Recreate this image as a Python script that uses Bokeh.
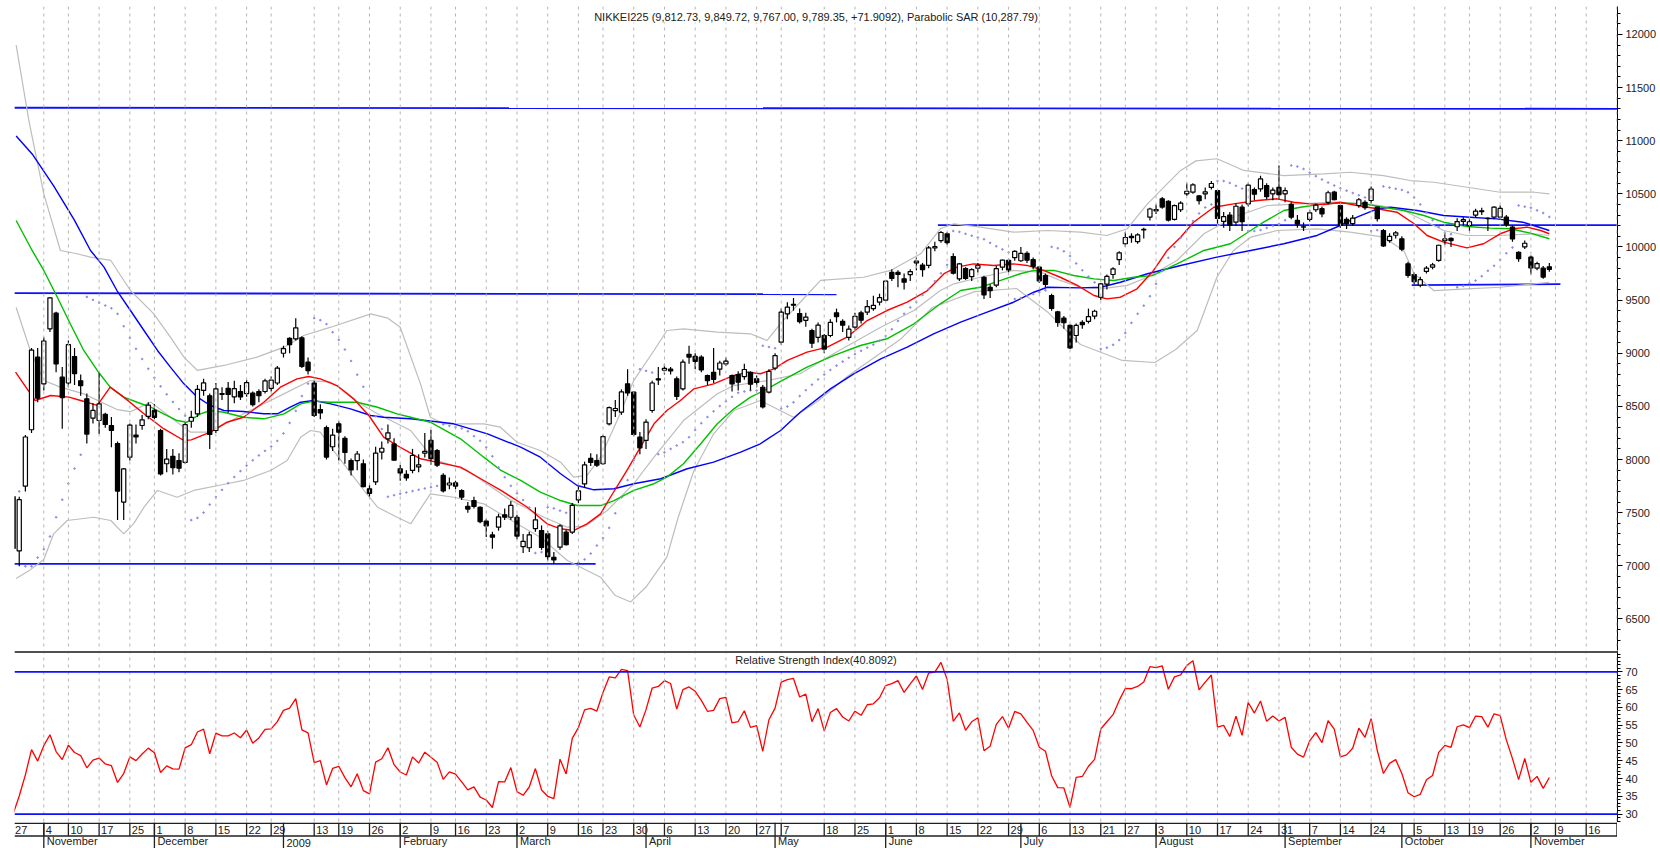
import numpy as np
from bokeh.plotting import figure
from bokeh.layouts import column
from bokeh.models import Range1d, Span, Label, FixedTicker, ColumnDataSource
from bokeh.core.properties import value
from bokeh.embed import file_html
from bokeh.resources import INLINE

# ---------------- data (trading-day index 0 = 27 Oct 2008) ----------------
opens = [7650,7140,7750,8280,8963,8712,9230,9377,8775,8720,
8969,8740,8571,8390,8367,8425,8320,8150,7600,8022,
8230,8320,8405,8462,8273,7960,8030,7990,7974,8360,
8430,8650,8600,8273,8620,8670,8590,8640,8620,8624,
8640,8640,8670,8720,9000,9140,9136,9145,8916,8719,
8470,8300,8120,8336,8198,7990,7990,7960,7725,7790,
8070,8195,8147,7913,7860,7897,7930,8060,8180,8085,
7850,7760,7780,7708,7560,7614,7551,7420,7290,7363,
7480,7457,7457,7180,7170,7350,7332,7301,7080,7175,
7316,7316,7620,7770,8010,7990,7960,8336,8460,8445,
8712,8634,8210,8180,8461,8760,8840,8850,8760,8665,
8990,8970,8963,8790,8820,8850,8900,8790,8800,8780,
8820,8760,8680,8634,8860,9104,9371,9460,9374,9310,
9214,9150,9167,9167,9380,9300,9150,9245,9380,9386,
9420,9480,9500,9760,9760,9700,9740,9850,9830,9826,
9990,10060,10124,9910,9700,9797,9720,9800,9715,9620,
9640,9810,9873,9900,9870,9940,9880,9810,9731,9543,
9390,9330,9262,9167,9290,9300,9350,9527,9650,9741,
9880,10030,10100,10050,10160,10280,10340,10453,10430,10260,
10350,10500,10515,10480,10500,10560,10530,10240,10300,10233,
10374,10405,10540,10546,10578,10500,10560,10500,10400,10250,
10190,10260,10350,10360,10420,10515,10390,10260,10220,10390,
10420,10437,10374,10155,10060,10110,10077,9841,9741,9640,
9770,9810,9873,10060,10080,10190,10240,10200,10300,10340,
10270,10280,10280,10280,10186,9950,10000,9904,9800,9800,
9812.73]
highs = [7700,7650,8230,9050,9050,9150,9530,9390,8870,9120,
9050,8800,8620,8530,8820,8440,8400,8170,7920,8340,
8330,8420,8540,8520,8290,8100,8100,8060,8350,8460,
8700,8760,8620,8720,8680,8730,8740,8700,8750,8640,
8660,8760,8780,8880,9070,9150,9330,9160,8960,8740,
8520,8320,8290,8360,8220,8010,8080,8000,7760,8120,
8170,8330,8200,7950,7900,8100,8050,8250,8280,8100,
7870,7830,7800,7720,7600,7650,7560,7440,7320,7490,
7540,7610,7480,7300,7320,7550,7380,7330,7130,7390,
7340,7590,7745,7980,8060,8050,8230,8500,8560,8660,
8850,8640,8260,8380,8740,8870,8900,8870,8780,8940,
9070,9000,8980,8800,9050,8930,8960,8800,8830,8900,
8830,8790,8700,8850,9000,9420,9480,9520,9420,9380,
9230,9290,9180,9320,9420,9320,9260,9380,9400,9500,
9540,9560,9690,9790,9780,9750,9790,9900,9850,10010,
10050,10150,10140,9940,9850,9810,9800,9850,9730,9650,
9820,9880,9890,9970,10000,9960,9900,9820,9750,9560,
9400,9350,9270,9280,9310,9420,9410,9660,9740,9810,
9960,10140,10130,10130,10180,10370,10400,10470,10440,10400,
10430,10600,10600,10490,10560,10620,10540,10330,10330,10410,
10400,10600,10560,10670,10600,10560,10767,10560,10420,10300,
10230,10350,10410,10380,10530,10530,10400,10280,10300,10460,
10440,10570,10380,10170,10130,10150,10100,9860,9760,9720,
9820,9850,10020,10120,10090,10270,10280,10270,10360,10370,
10280,10380,10390,10300,10200,9960,10060,9920,9860,9820,
9849.72]
lows = [7140,6995,7700,8250,8540,8650,9200,8820,8290,8680,
8700,8600,8150,8340,8240,8300,8116,7430,7430,7990,
8150,8280,8380,8380,7850,7880,7860,7880,7960,8300,
8400,8600,8100,8250,8560,8440,8530,8560,8590,8500,
8540,8620,8640,8700,8960,9000,9120,8860,8800,8400,
8380,8000,8080,7990,7960,7850,7900,7740,7650,7760,
8000,8150,7990,7800,7800,7870,7880,8020,7950,7930,
7690,7720,7720,7620,7500,7540,7400,7270,7160,7330,
7430,7430,7250,7120,7130,7320,7150,7050,7020,7150,
7190,7300,7590,7740,7940,7930,7950,8320,8400,8420,
8600,8220,8050,8100,8440,8700,8800,8800,8560,8650,
8900,8850,8820,8700,8720,8790,8880,8640,8650,8750,
8650,8680,8480,8620,8840,9080,9320,9400,9280,9250,
9050,9100,9000,9150,9290,9200,9120,9220,9280,9360,
9400,9450,9490,9680,9620,9600,9680,9780,9720,9800,
9960,10040,10020,9740,9680,9690,9680,9760,9510,9520,
9620,9780,9760,9870,9860,9850,9790,9660,9620,9400,
9250,9230,9040,9100,9230,9280,9320,9500,9600,9700,
9830,10000,10040,10030,10080,10250,10310,10360,10240,10250,
10330,10480,10500,10400,10450,10540,10200,10180,10150,10200,
10150,10380,10440,10520,10450,10440,10450,10420,10260,10180,
10150,10240,10330,10280,10400,10440,10180,10170,10200,10370,
10350,10410,10240,10000,10040,10080,9960,9710,9650,9620,
9750,9790,9860,10020,10000,10150,10200,10150,10280,10300,
10150,10260,10260,10190,10050,9860,9980,9740,9780,9700,
9767.00]
closes = [7163,7622,8212,9030,8577,9115,9521,8899,8583,9081,
8809,8696,8239,8462,8524,8330,8273,7703,7911,8324,
8213,8373,8512,8397,7864,8004,7924,7918,8329,8396,
8660,8721,8236,8665,8613,8612,8667,8589,8724,8517,
8600,8740,8747,8860,9043,9081,9239,8876,8837,8414,
8438,8023,8230,8257,8066,7902,8052,7745,7682,8061,
8106,8251,7994,7874,7826,8038,7950,8077,8009,7946,
7705,7779,7750,7646,7534,7558,7416,7376,7269,7461,
7458,7568,7280,7230,7291,7433,7173,7086,7055,7376,
7198,7569,7704,7949,7972,7946,8216,8488,8480,8636,
8627,8236,8110,8352,8720,8750,8858,8833,8595,8916,
8964,8924,8843,8743,8755,8908,8925,8711,8727,8847,
8708,8726,8494,8828,8977,9386,9433,9452,9298,9340,
9094,9265,9039,9290,9345,9264,9226,9347,9311,9439,
9451,9523,9678,9704,9742,9669,9768,9866,9787,9991,
10003,10136,10040,9753,9841,9704,9786,9826,9550,9590,
9796,9877,9783,9958,9940,9876,9816,9681,9648,9421,
9291,9287,9050,9262,9269,9344,9395,9652,9723,9793,
9945,10089,10087,10113,10165,10357,10352,10375,10253,10389,
10412,10524,10585,10435,10518,10597,10269,10285,10204,10383,
10238,10581,10497,10640,10474,10534,10493,10530,10280,10215,
10187,10321,10393,10312,10510,10444,10202,10218,10271,10444,
10371,10544,10266,10010,10100,10133,9979,9732,9674,9692,
9800,9832,10016,10076,10060,10239,10257,10237,10337,10333,
10267,10374,10363,10212,10075,9891,10035,9803,9844,9717,
9789.35]

# moving averages / bands (trading-day index, price)
red_i = [0.4,3.6,6.1,9.1,11,13.7,15.8,18,21.3,24.5,27.8,29,32.1,34.8,37.5,40.8,43.5,46.2,48.1,50,52.7,55.4,57.9,60.3,62.5,64.7,66.3,72.8,76.1,79.4,83.7,86.9,89.1,91.2,93.4,95.6,97.2,99.9,102.1,104.3,106.4,108.6,110.8,114,117.3,119.5,121.6,123.8,126,129.2,132.5,135.7,139,142.2,145.5,148.8,151.5,153.6,156.3,159.6,162.8,165,167.7,170.4,173.2,175.9,178,180.2,182.9,185.6,187.8,190,192.1,195.4,198.6,202.5,205.7,208.4,211.1,213.3,216,218.7,222,225.2,228,230.1,232.8,236.6,239.3,242,244.2,246.4,248.6,250]
red_v = [8822,8555,8602,8587,8555,8510,8681,8587,8430,8290,8179,8185,8257,8351,8398,8539,8680,8759,8781,8759,8696,8571,8414,8210,8132,8060,8007,7928,7819,7709,7551,7395,7348,7332,7395,7489,7645,7897,8116,8336,8461,8555,8665,8712,8791,8822,8807,8853,8932,9010,9057,9151,9308,9402,9480,9590,9748,9810,9841,9826,9841,9826,9779,9715,9638,9543,9512,9527,9606,9779,9967,10092,10233,10374,10405,10437,10453,10421,10405,10399,10421,10390,10359,10327,10218,10108,10045,9992,10030,10124,10171,10186,10155,10124]
green_i = [0.5,3.1,5,7.2,9.3,11.5,13.7,15.8,18,20.2,22.4,24.5,26.7,28.3,30.5,32.1,34.3,37.5,40.8,44.1,46.8,48.9,51.7,56,59.3,62.5,64.7,67.9,72.8,76.6,79.4,82.6,85.8,89.1,91.8,95.6,97.8,101,104.3,106.4,109.1,111.9,114.6,117.3,120,122.2,124.9,129.2,133.6,137.9,142.2,146.6,150.9,154.2,157.4,160.7,163.9,166.1,169.4,172.6,175.9,179.1,182.4,185.4,189.4,193.8,198.1,201.4,203.5,206.8,209.5,213.3,216.5,219.8,223,226.3,229.6,232.8,236.6,240.4,243.7,246.9,250]
green_v = [10249,9967,9779,9527,9277,9026,8838,8681,8587,8539,8492,8430,8367,8351,8430,8461,8445,8398,8383,8430,8524,8549,8539,8539,8492,8430,8398,8351,8195,8022,7897,7803,7693,7614,7567,7567,7614,7709,7772,7834,7960,8148,8336,8477,8587,8649,8735,8869,8979,9073,9136,9277,9465,9590,9621,9685,9748,9779,9779,9731,9700,9685,9715,9730,9841,9967,10030,10155,10233,10343,10374,10405,10412,10405,10374,10343,10296,10233,10193,10177,10171,10130,10077]
blue_i = [0.5,3.1,6.6,10,12.6,14.8,16.9,19.1,21.3,23.5,25.6,27.8,30,32.1,34.3,37.5,40.8,43,45.1,46.8,48.9,51.7,54.9,58.2,60.3,64.7,71.7,77.2,82.6,85.8,89.1,91.8,94.5,97.8,101,105.4,109.7,114,118.4,121.6,124.9,128.1,133,136.8,141.2,145.5,149.8,154.2,158.5,162.8,166.1,168.3,173.7,177,180.2,184.6,190,195.9,201.4,206.8,212.2,216,218.7,222,224.2,228.5,232.8,237.1,241.4,245.7,250]
blue_v = [11044,10875,10575,10250,9967,9810,9590,9402,9214,9026,8869,8712,8587,8508,8461,8452,8430,8430,8492,8539,8555,8524,8477,8414,8398,8383,8336,8242,8116,8022,7866,7756,7715,7725,7772,7819,7913,7975,8069,8148,8273,8445,8665,8806,8947,9057,9183,9292,9386,9480,9574,9621,9615,9621,9668,9748,9826,9904,9967,10030,10108,10202,10280,10359,10374,10343,10296,10280,10264,10233,10155]
bbu_i = [0.5,2.6,5,7.7,10.4,12.6,15.9,19.1,22.9,25.6,27.8,30,34.3,39.7,44.1,47.3,51.7,58.2,61,63,66.3,67.9,70.1,76.6,79.3,82,85.8,89.1,91.2,93.4,95.6,98.3,101,104.3,106.4,109.1,114.6,120,122.7,125.2,128.1,131.4,138.4,142.8,147.7,150.9,153.1,157.4,162.8,168.3,173.7,178,181.3,184.6,187.8,190,192.5,195.9,200.3,206.8,213.3,217.6,223,227.4,231.2,236.6,242,247.5,250]
bbu_v = [11900,11180,10500,9967,9936,9904,9873,9590,9371,9151,8963,8838,8885,8963,9057,9167,9245,9371,9330,9245,8712,8398,8336,8336,8304,8163,8085,7975,7834,7850,8022,8367,8743,9026,9214,9230,9198,9183,9120,9300,9480,9685,9715,9779,9936,10171,10218,10186,10139,10155,10139,10108,10171,10405,10593,10720,10810,10830,10720,10672,10688,10703,10672,10625,10609,10562,10515,10515,10500]
bbm_i = [0.5,2.8,5,7.7,11.5,16.9,19.1,22.4,26.7,28.9,32.1,37.5,43,48.4,51.7,53.8,56.5,59.3,64.7,68.5,73.9,80.9,86.4,90.2,93,96.7,101,104.3,109.1,114.6,117.3,122.7,128.1,133,141.2,146.6,150.9,153.1,157.4,162.8,167.2,170.4,173.7,177,181.3,184.6,189.4,193.8,198.6,204.1,209.5,214.9,220.4,225.8,228.5,232.8,236.6,242,247.5,250]
bbm_v = [9430,9026,8743,8681,8618,8470,8450,8540,8350,8257,8257,8430,8587,8743,8728,8649,8524,8430,8273,8000,7900,7620,7457,7363,7370,7520,7772,8022,8367,8618,8696,8743,8807,8979,9245,9402,9590,9653,9715,9779,9763,9685,9621,9606,9638,9715,9873,10124,10280,10390,10405,10421,10405,10359,10280,10155,10108,10108,10124,10108]
bbl_i = [0.5,2.5,5,6.6,8.8,13.1,15.9,18,19.6,21.3,23.5,26.7,29.4,34.8,37.5,41.9,44.6,46.8,48.4,50,51.7,53.8,57.1,59.3,62.5,64.7,67.9,71.7,76.6,82,85.8,90.2,93.4,95.6,98,100.5,103,106.4,108.2,110.8,114,117.3,121.6,127,131,135.8,144.4,149.6,156.5,163.3,168.5,173.7,180.5,185.8,189.2,192.7,194.4,195.9,198.6,201.4,205.7,212.2,217.6,223,226.3,228,231.2,236.6,242,247.5,250]
bbl_v = [6880,6950,7060,7301,7426,7457,7426,7301,7395,7551,7709,7645,7709,7772,7803,7897,7991,8210,8273,8257,8116,7960,7709,7551,7457,7395,7677,7645,7583,7395,7269,7050,6956,6893,6720,6660,6800,7081,7450,7897,8242,8461,8555,8398,8550,8783,9131,9430,9580,9609,9380,9082,8932,8913,9035,9214,9480,9715,9967,10092,10155,10171,10139,10092,9967,9748,9590,9606,9621,9653,9668]

# support / resistance lines (start index, end index, start price, end price)
trend_i0 = [0.2, 0.2, 0.2, 150.5, 227.6]
trend_i1 = [262.0, 134.0, 94.8, 262.0, 251.8]
trend_v0 = [11310, 9565, 7018, 10205, 9640]
trend_v1 = [11300, 9555, 7018, 10205, 9650]

# calendar ticks
tick_idx = [0,5,9,14,19,23,28,33,38,42,49,53,58,63,68,72,77,82,87,92,96,101,106,111,116,121,125,132,137,142,147,152,157,162,167,172,177,181,186,191,196,201,206,211,216,221,228,233,237,242,247,251,256,261]
tick_lbl = ["27","4","10","17","25","1","8","15","22","29","13","19","26","2","9","16","23","2","9","16","23","30","6","13","20","27","7","18","25","1","8","15","22","29","6","13","21","27","3","10","17","24","31","7","14","24","5","13","19","26","2","9","16",""]
month_idx = [5,23,44,63,82,103,124,142,164,186,207,226,247]
month_lbl = ["November","December","2009","February","March","April","May","June","July","August","September","October","November"]

title_txt = "NIKKEI225 (9,812.73, 9,849.72, 9,767.00, 9,789.35, +71.9092), Parabolic SAR (10,287.79)"
rsi_txt = "Relative Strength Index(40.8092)"

# ---------------- indicators derived from the OHLC above ----------------
def psar(h, l, step=0.02, amax=0.2):
    out = [h[0]]
    bull = False
    af = step
    ep = l[0]
    for t in range(1, len(h)):
        prev = out[-1]
        s = prev + af * (ep - prev)
        if bull:
            s = min(s, l[t-1], l[max(t-2, 0)])
            if l[t] < s:
                bull, s, ep, af = False, ep, l[t], step
            elif h[t] > ep:
                ep, af = h[t], min(af + step, amax)
        else:
            s = max(s, h[t-1], h[max(t-2, 0)])
            if h[t] > s:
                bull, s, ep, af = True, ep, h[t], step
            elif l[t] < ep:
                ep, af = l[t], min(af + step, amax)
        out.append(s)
    return out

def rsi_calc(c, n=14, gain0=135.0, loss0=315.0):
    ag, al = gain0, loss0
    out = [100 * ag / (ag + al)]
    for t in range(1, len(c)):
        dlt = c[t] - c[t-1]
        ag = (ag * (n - 1) + max(dlt, 0)) / n
        al = (al * (n - 1) + max(-dlt, 0)) / n
        out.append(100 * ag / (ag + al))
    return out

sar = psar(highs, lows)
rsi = rsi_calc(closes)

FONT = "Liberation Sans"
N = len(closes)
idx = list(range(N))
FW = 1603
X0 = 0.23
xr = Range1d(X0, X0 + FW / 6.145)
XC = X0 + FW / 6.145 / 2
GRID = "#b4b4b4"

# ---------------- top black band ----------------
band = figure(width=1660, height=6, toolbar_location=None, output_backend="svg",
              x_axis_type=None, y_axis_type=None, min_border=0,
              outline_line_color=None, background_fill_color="black", border_fill_color="black")
band.grid.visible = False

def style_axis(a):
    a.axis_line_color = "black"
    a.major_tick_out = 5
    a.major_tick_in = 0
    a.minor_tick_out = 3
    a.minor_tick_in = 0
    a.major_label_standoff = 3
    a.major_label_text_font = FONT
    a.major_label_text_font_size = "11px"
    a.major_label_text_color = "#222222"

# ---------------- price panel ----------------
p = figure(frame_width=FW, frame_height=644, x_range=xr, y_range=Range1d(6203.0, 12262.5),
           toolbar_location=None, output_backend="svg", x_axis_type=None, y_axis_location="right",
           min_border_left=14, min_border_right=0, min_border_top=0, min_border_bottom=0,
           outline_line_color=None, background_fill_color="white", border_fill_color="white")
p.grid.visible = False
for t in tick_idx:
    p.add_layout(Span(location=t, dimension="height", line_color=GRID, line_dash="3 4", line_width=1))

ax = p.yaxis[0]
ax.ticker = FixedTicker(ticks=list(range(6500, 12001, 500)), minor_ticks=list(range(6300, 12300, 100)))
style_axis(ax)

for i0, i1, v0, v1 in zip(trend_i0, trend_i1, trend_v0, trend_v1):
    p.line([i0, i1], [v0, v1], line_color="#1010ff", line_width=1.8)

p.line(bbu_i, bbu_v, line_color="#bdbdbd", line_width=1.2)
p.line(bbm_i, bbm_v, line_color="#bdbdbd", line_width=1.2)
p.line(bbl_i, bbl_v, line_color="#bdbdbd", line_width=1.2)
p.line(blue_i, blue_v, line_color="#0000ff", line_width=1.4)
p.line(green_i, green_v, line_color="#00c000", line_width=1.4)
p.line(red_i, red_v, line_color="#ff0000", line_width=1.4)

p.scatter(idx, sar, size=1.6, color="#8a8ae6", marker="circle")

src = ColumnDataSource(dict(
    x=idx, o=opens, h=highs, l=lows, c=closes,
    top=[max(a, b) for a, b in zip(opens, closes)],
    bot=[min(a, b) for a, b in zip(opens, closes)],
    fill=["white" if c >= o else "black" for o, c in zip(opens, closes)]))
p.segment(x0="x", y0="l", x1="x", y1="h", source=src, line_color="black", line_width=1.2)
p.vbar(x="x", top="top", bottom="bot", width=0.68, fill_color="fill", line_color="black",
       line_width=1.2, source=src)

p.add_layout(Label(x=XC, y=12168, text=title_txt, text_align="center",
                   text_baseline="middle", text_font=FONT, text_font_size="11px",
                   text_color="#202020", background_fill_color="white"))

# ---------------- RSI panel ----------------
r = figure(frame_width=FW, frame_height=172, x_range=xr, y_range=Range1d(27.64, 75.99),
           toolbar_location=None, output_backend="svg", x_axis_type=None, y_axis_location="right",
           min_border_left=14, min_border_right=0, min_border_top=0, min_border_bottom=0,
           outline_line_color=None, background_fill_color="white", border_fill_color="white")
r.grid.visible = False
for t in tick_idx:
    r.add_layout(Span(location=t, dimension="height", line_color=GRID, line_dash="3 4", line_width=1))
r.add_layout(Span(location=75.57, dimension="width", line_color="#505050", line_width=2))
for lv in (70, 30):
    r.add_layout(Span(location=lv, dimension="width", line_color="#1010ff", line_width=1.8))
rax = r.yaxis[0]
rax.ticker = FixedTicker(ticks=list(range(30, 71, 5)), minor_ticks=list(range(28, 76, 1)))
style_axis(rax)
r.line(idx, rsi, line_color="#ff0000", line_width=1.3)
r.add_layout(Label(x=XC, y=73.18, text=rsi_txt, text_align="center",
                   text_baseline="middle", text_font=FONT, text_font_size="11px",
                   text_color="#202020", background_fill_color="white"))

# ---------------- date bar ----------------
d = figure(frame_width=FW, frame_height=26, x_range=xr, y_range=Range1d(0, 26),
           toolbar_location=None, output_backend="svg", x_axis_type=None, y_axis_type=None,
           min_border_left=14, min_border_right=0, min_border_top=0, min_border_bottom=0,
           outline_line_color=None, background_fill_color="white", border_fill_color="white")
d.grid.visible = False
d.add_layout(Span(location=25.3, dimension="width", line_color="#202020", line_width=1.6))
d.add_layout(Span(location=12.5, dimension="width", line_color="#202020", line_width=1.6))
d.segment(x0=tick_idx, y0=12.5, x1=tick_idx, y1=26, line_color="#202020", line_width=1.3)
d.segment(x0=month_idx, y0=0, x1=month_idx, y1=26, line_color="#202020", line_width=1.3)
d.text(x=tick_idx, y=18.9, text=tick_lbl, x_offset=2, text_align="left", text_baseline="middle",
       text_font=value(FONT), text_font_size=value("11px"), text_color="#202020")
d.text(x=month_idx, y=1.3, text=month_lbl, x_offset=3, text_align="left", text_baseline="bottom",
       text_font=value(FONT), text_font_size=value("11px"), text_color="#202020")

layout = column(band, p, r, d, spacing=0)
open("out.html", "w").write(file_html(layout, INLINE))
